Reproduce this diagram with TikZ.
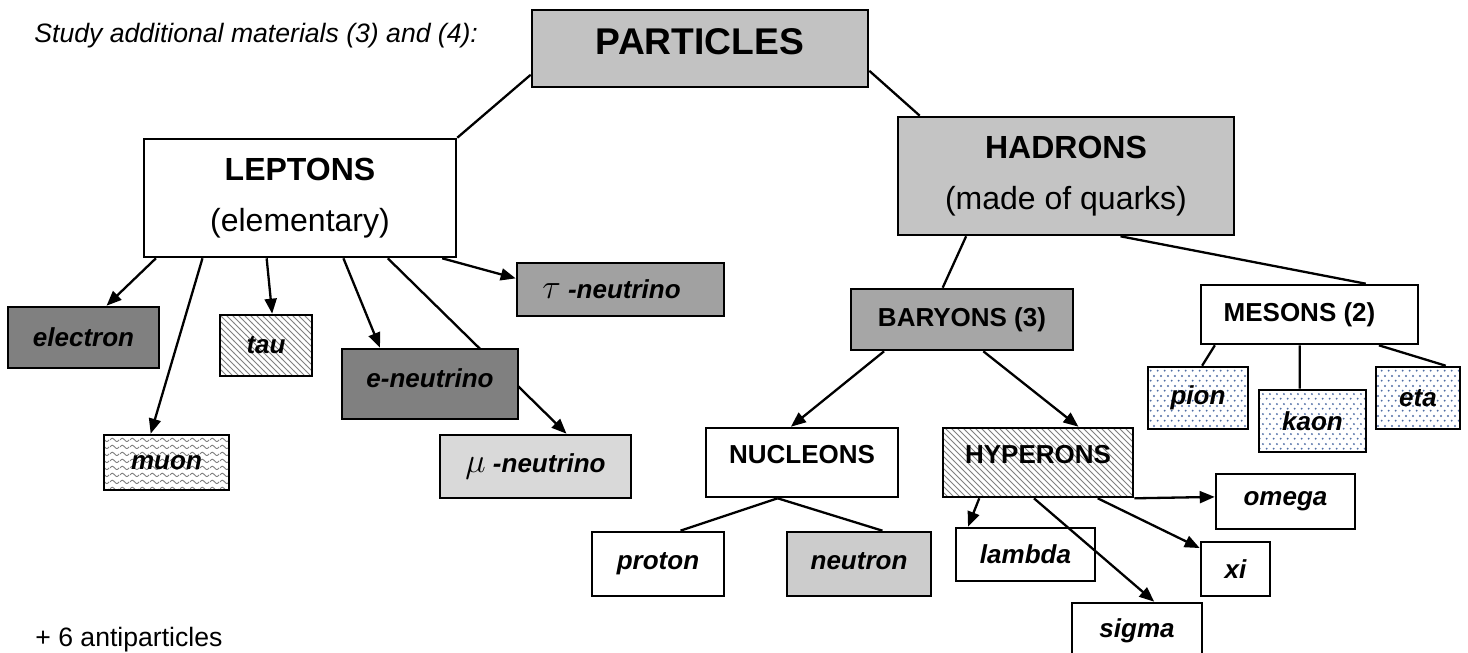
\documentclass[tikz,border=0pt]{standalone}
\usepackage{fontspec}
\setmainfont{Liberation Sans}
\usetikzlibrary{arrows.meta,calc,patterns,patterns.meta,backgrounds}

\pgfdeclarepattern{
  name=wavy,
  type=uncolored,
  bottom left={\pgfpoint{0pt}{0pt}},
  top right={\pgfpoint{5pt}{3.5pt}},
  tile size={\pgfpoint{5pt}{3.5pt}},
  code={
    \pgfsetlinewidth{0.5pt}
    \pgfpathmoveto{\pgfpoint{0pt}{1.75pt}}
    \pgfpathcurveto{\pgfpoint{1.25pt}{3pt}}{\pgfpoint{1.25pt}{3pt}}{\pgfpoint{2.5pt}{1.75pt}}
    \pgfpathcurveto{\pgfpoint{3.75pt}{0.5pt}}{\pgfpoint{3.75pt}{0.5pt}}{\pgfpoint{5pt}{1.75pt}}
    \pgfusepath{stroke}
  }
}
\pgfdeclarepattern{
  name=bigdots,
  type=uncolored,
  bottom left={\pgfpoint{0pt}{0pt}},
  top right={\pgfpoint{3.4pt}{4.8pt}},
  tile size={\pgfpoint{3.4pt}{4.8pt}},
  code={
    \pgfpathcircle{\pgfpoint{0.85pt}{1.2pt}}{0.55pt}
    \pgfpathcircle{\pgfpoint{2.55pt}{3.6pt}}{0.55pt}
    \pgfusepath{fill}
  }
}

\definecolor{cPar}{gray}{0.76}
\definecolor{cHad}{gray}{0.77}
\definecolor{cTnu}{gray}{0.63}
\definecolor{cBar}{gray}{0.65}
\definecolor{cNeu}{gray}{0.80}
\definecolor{cMnu}{gray}{0.85}
\definecolor{cDark}{gray}{0.50}
\definecolor{dotblue}{RGB}{80,110,165}

\begin{document}
\begin{tikzpicture}[x=0.5pt,y=-0.5pt,
  box/.style={draw, line width=1.3pt, inner sep=0pt, align=center},
  bigtxt/.style={font=\fontsize{16}{25.75}\selectfont},
  leaf/.style={box, font=\fontsize{13}{15}\selectfont\bfseries\itshape},
  mid/.style={box, font=\fontsize{13}{15}\selectfont\bfseries},
  hatch/.style={preaction={fill=white}, pattern=north west lines, pattern color=gray},
  wave/.style={preaction={fill=white}, pattern=wavy, pattern color=gray},
  bdots/.style={preaction={fill=white}, pattern=bigdots, pattern color=dotblue},
  link/.style={line width=1.15pt},
  arr/.style={link, -{Triangle[length=7.5pt,width=6pt]}}]
\useasboundingbox (0,0) rectangle (1468,653);

% free texts
\node[anchor=base west, inner sep=0pt, font=\fontsize{13.3}{16}\selectfont\itshape] (study) at (34,42) {Study additional materials (3) and (4):};
\node[anchor=base west, inner sep=0pt, font=\fontsize{13.3}{16}\selectfont] (anti) at (35,646) {+ 6 antiparticles};

% top levels
\node[box, fill=cPar, minimum width=168pt, minimum height=38.5pt, font=\fontsize{18.6}{22}\selectfont\bfseries] (par) at (700,48.5) {\raisebox{3.5pt}[13.3pt][0pt]{PARTICLES}};
\node[box, bigtxt, minimum width=156pt, minimum height=59pt] (lep) at (300,198) {\textbf{LEPTONS}\\(elementary)};
\node[box, bigtxt, fill=cHad, minimum width=168pt, minimum height=59pt] (had) at (1066,176) {\textbf{HADRONS}\\(made of quarks)};

% leptons
\node[leaf, fill=cTnu, minimum width=103.5pt, minimum height=26.5pt] (tnu) at (620.5,289.5) {{\fontsize{17}{17}\selectfont$\tau$} -neutrino\hspace*{9pt}};
\node[leaf, fill=cDark, minimum width=75.5pt, minimum height=30.5pt] (ele) at (83.5,337.5) {electron};
\node[leaf, hatch, minimum width=46pt, minimum height=30.5pt] (tau) at (266,345.5) {tau};
\node[leaf, fill=cDark, minimum width=88pt, minimum height=35pt] (enu) at (430,384) {\raisebox{3pt}[9.4pt][0pt]{e-neutrino}};
\node[leaf, wave, minimum width=62.5pt, minimum height=27.5pt] (muo) at (166.5,462.5) {muon};
\node[leaf, fill=cMnu, minimum width=95.5pt, minimum height=31.5pt] (mnu) at (535.5,466.5) {{\fontsize{17}{17}\selectfont$\mu$} -neutrino};

% hadrons
\node[mid, fill=cBar, minimum width=111pt, minimum height=30.5pt] (bar) at (962,319.5) {BARYONS (3)};
\node[mid, minimum width=108.5pt, minimum height=29.5pt] (mes) at (1309.5,314.5) {MESONS (2)\hspace*{10pt}};
\node[mid, minimum width=96pt, minimum height=34.5pt] (nuc) at (802,462.5) {\raisebox{4pt}[9.4pt][0pt]{NUCLEONS}};
\node[mid, hatch, minimum width=95pt, minimum height=34.5pt] (hyp) at (1038,462.5) {\raisebox{4pt}[9.4pt][0pt]{HYPERONS}};
\node[leaf, bdots, minimum width=50pt, minimum height=31pt] (pio) at (1198,398) {pion};
\node[leaf, bdots, minimum width=53.5pt, minimum height=31pt] (kao) at (1312.5,421) {kaon};
\node[leaf, bdots, minimum width=42pt, minimum height=31pt] (eta) at (1418,398) {eta};
\node[leaf, minimum width=66pt, minimum height=32pt] (pro) at (658,564) {proton};
\node[leaf, fill=cNeu, minimum width=72pt, minimum height=32pt] (neu) at (859,564) {\raisebox{2pt}[9.4pt][0pt]{neutron}};
\node[leaf, minimum width=69.5pt, minimum height=26.5pt] (lam) at (1025.5,554.5) {lambda};
\node[leaf, minimum width=69.5pt, minimum height=27.5pt] (ome) at (1285.5,501.5) {omega};
\node[leaf, minimum width=34.5pt, minimum height=27pt] (xi) at (1235.5,569) {xi};
\node[leaf, minimum width=65pt, minimum height=28pt] (sig) at (1137,631) {sigma};

\begin{scope}[on background layer]
\draw[link] ($(par.north west)!0.83!(par.south west)$) -- (lep.north east);
\draw[link] ($(par.north east)!0.78!(par.south east)$) -- ($(had.north west)!0.068!(had.north east)$);
\draw[arr] ($(lep.south west)!0.042!(lep.south east)$) -- ($(ele.north west)!0.65!(ele.north east)$);
\draw[arr] ($(lep.south west)!0.19!(lep.south east)$) -- ($(muo.north west)!0.376!(muo.north east)$);
\draw[arr] ($(lep.south west)!0.394!(lep.south east)$) -- ($(tau.north west)!0.565!(tau.north east)$);
\draw[arr] ($(lep.south west)!0.638!(lep.south east)$) -- ($(enu.north west)!0.22!(enu.north east)$);
\draw[arr] ($(lep.south west)!0.779!(lep.south east)$) -- ($(mnu.north west)!0.66!(mnu.north east)$);
\draw[arr] ($(lep.south west)!0.952!(lep.south east)$) -- ($(tnu.north west)!0.30!(tnu.south west)$);
\draw[link] ($(had.south west)!0.205!(had.south east)$) -- ($(bar.north west)!0.414!(bar.north east)$);
\draw[link] ($(had.south west)!0.661!(had.south east)$) -- ($(mes.north west)!0.756!(mes.north east)$);
\draw[arr] ($(bar.south west)!0.153!(bar.south east)$) -- ($(nuc.north west)!0.443!(nuc.north east)$);
\draw[arr] ($(bar.south west)!0.595!(bar.south east)$) -- ($(hyp.north west)!0.71!(hyp.north east)$);
\draw[link] ($(mes.south west)!0.069!(mes.south east)$) -- ($(pio.north west)!0.54!(pio.north east)$);
\draw[link] ($(mes.south west)!0.456!(mes.south east)$) -- ($(kao.north west)!0.383!(kao.north east)$);
\draw[link] ($(mes.south west)!0.816!(mes.south east)$) -- ($(eta.north west)!0.82!(eta.north east)$);
\draw[link] ($(nuc.south west)!0.375!(nuc.south east)$) -- ($(pro.north west)!0.667!(pro.north east)$);
\draw[link] ($(nuc.south west)!0.375!(nuc.south east)$) -- ($(neu.north west)!0.66!(neu.north east)$);
\draw[arr] ($(hyp.south west)!0.195!(hyp.south east)$) -- ($(lam.north west)!0.094!(lam.north east)$);
\draw[arr] ($(hyp.south west)!0.479!(hyp.south east)$) -- ($(sig.north west)!0.63!(sig.north east)$);
\draw[arr] ($(hyp.south west)!0.81!(hyp.south east)$) -- ($(xi.north west)!0.13!(xi.south west)$);
\draw[arr] (hyp.south east) -- ($(ome.north west)!0.42!(ome.south west)$);
\end{scope}
\end{tikzpicture}
\end{document}
